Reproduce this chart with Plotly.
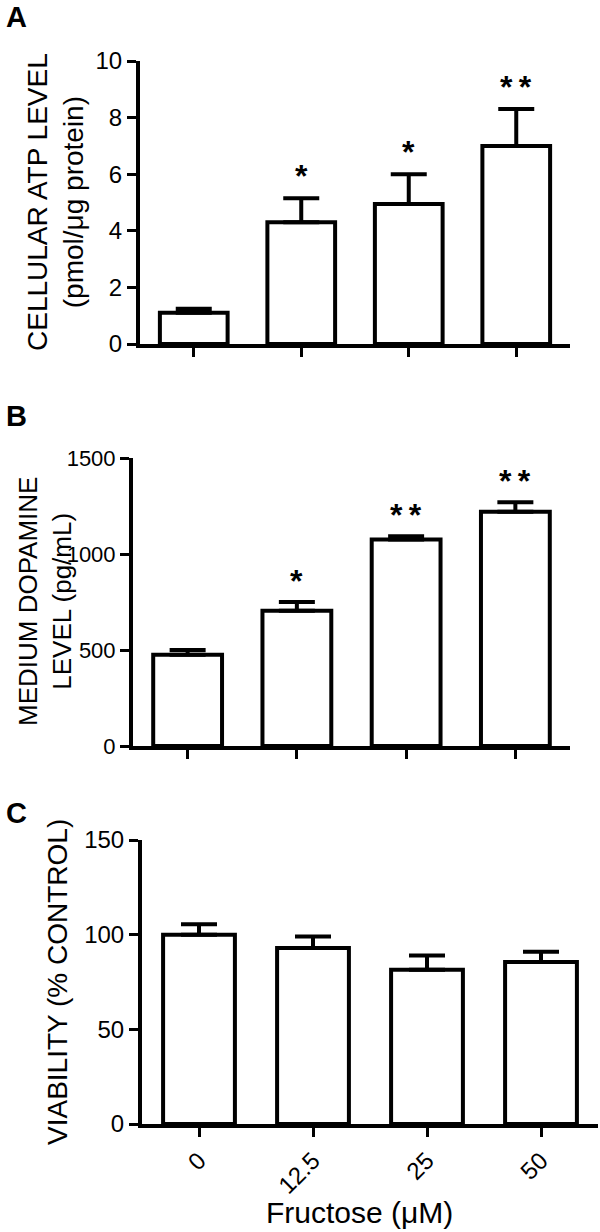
import plotly.graph_objects as go

W, H = 600, 1232

# ---------------- data ----------------
categories = ["0", "12.5", "25", "50"]

atp_values = [1.1, 4.3, 4.95, 7.0]
atp_errors = [0.15, 0.85, 1.05, 1.3]
atp_stars = ["", "*", "*", "**"]

dopamine_values = [475, 705, 1075, 1220]
dopamine_errors = [25, 45, 18, 50]
dopamine_stars = ["", "*", "**", "**"]

viability_values = [100, 93, 81.5, 85.5]
viability_errors = [5.5, 6, 7.5, 5.5]

FONT = "Arial, Liberation Sans, sans-serif"


def fy(px):
    return 1 - px / H


fig = go.Figure()


def add_bars(values, errors, xa, ya):
    fig.add_trace(go.Bar(
        x=categories, y=values, xaxis=xa, yaxis=ya, width=0.63,
        marker=dict(color="white", line=dict(color="black", width=4)),
        error_y=dict(type="data", array=errors, arrayminus=[0] * len(errors),
                     symmetric=False, color="black", thickness=4, width=18),
        showlegend=False, hoverinfo="skip",
    ))


add_bars(atp_values, atp_errors, "x", "y")
add_bars(dopamine_values, dopamine_errors, "x2", "y2")
add_bars(viability_values, viability_errors, "x3", "y3")

axis_common = dict(showline=True, linewidth=4, linecolor="black", ticks="outside",
                   ticklen=9, tickwidth=3, tickcolor="black", showgrid=False,
                   zeroline=False, automargin=False)
tick24 = dict(family=FONT, size=24, color="black")
tick22 = dict(family=FONT, size=22, color="black")

fig.update_layout(
    width=W, height=H, paper_bgcolor="white", plot_bgcolor="white",
    margin=dict(l=0, r=0, t=0, b=0, autoexpand=False),
    xaxis=dict(domain=[140 / W, 570 / W], anchor="y", type="category",
               range=[-0.5, 3.5], showticklabels=False, tickfont=tick24,
               **axis_common),
    yaxis=dict(domain=[fy(344), fy(61)], anchor="x", range=[0, 10], dtick=2,
               tickfont=tick24, **axis_common),
    xaxis2=dict(domain=[133 / W, 570 / W], anchor="y2", type="category",
                range=[-0.5, 3.5], showticklabels=False, tickfont=tick24,
                **axis_common),
    yaxis2=dict(domain=[fy(746), fy(458)], anchor="x2", range=[0, 1500],
                dtick=500, tickfont=tick22, **axis_common),
    xaxis3=dict(domain=[142 / W, 598 / W], anchor="y3", type="category",
                range=[-0.5, 3.5], tickangle=-45, tickfont=tick24,
                **axis_common),
    yaxis3=dict(domain=[fy(1124), fy(840)], anchor="x3", range=[0, 150],
                dtick=50, tickfont=tick24, **axis_common),
)

annotations = []
star_font = dict(family=FONT, size=32, color="black")


def star_text(s):
    return "<b>" + "\u2009".join(s) + "</b>"


# significance stars (x given as category index)
for i, (v, e, s) in enumerate(zip(atp_values, atp_errors, atp_stars)):
    if s:
        annotations.append(dict(x=i, y=v + e + 0.9, xref="x", yref="y",
                                text=star_text(s), showarrow=False,
                                yanchor="middle", yshift=-3, font=star_font))
for i, (v, e, s) in enumerate(zip(dopamine_values, dopamine_errors, dopamine_stars)):
    if s:
        annotations.append(dict(x=i, y=v + e + 130, xref="x2", yref="y2",
                                text=star_text(s), showarrow=False,
                                yanchor="middle", yshift=-4, font=star_font))

# y-axis titles
annotations += [
    dict(x=55 / W, y=fy(202), xref="paper", yref="paper", textangle=-90,
         text="CELLULAR ATP LEVEL<br>(pmol/μg protein)", showarrow=False,
         xanchor="center", yanchor="middle",
         font=dict(family=FONT, size=28, color="black")),
    dict(x=45 / W, y=fy(602), xref="paper", yref="paper", textangle=-90,
         text="MEDIUM DOPAMINE<br>LEVEL (pg/mL)", showarrow=False,
         xanchor="center", yanchor="middle",
         font=dict(family=FONT, size=26, color="black")),
    dict(x=57 / W, y=fy(982), xref="paper", yref="paper", textangle=-90,
         text="VIABILITY (% CONTROL)", showarrow=False,
         xanchor="center", yanchor="middle",
         font=dict(family=FONT, size=28, color="black")),
    # x-axis title
    dict(x=359 / W, y=fy(1212), xref="paper", yref="paper",
         text="Fructose (μM)", showarrow=False,
         xanchor="center", yanchor="middle",
         font=dict(family=FONT, size=30, color="black")),
]

# panel letters
for letter, ypx in [("A", 17), ("B", 416), ("C", 813)]:
    annotations.append(dict(x=16 / W, y=fy(ypx), xref="paper", yref="paper",
                            text="<b>" + letter + "</b>", showarrow=False,
                            xanchor="center", yanchor="middle",
                            font=dict(family=FONT, size=29, color="black")))

fig.update_layout(annotations=annotations)

fig.write_html("out.html", config={"displayModeBar": False},
               post_script="document.body.style.margin='0';"
                           "document.body.style.padding='0';")
